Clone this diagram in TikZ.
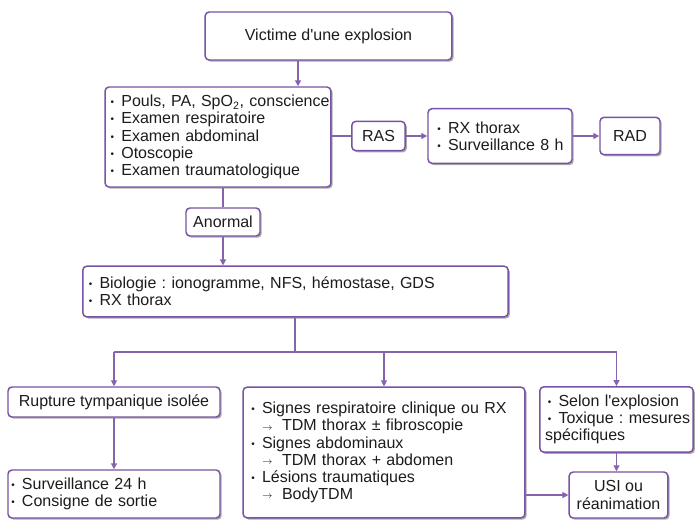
\documentclass[tikz,border=0pt]{standalone}
\usepackage{fontspec}
\setmainfont{Liberation Sans}
\usetikzlibrary{arrows.meta,shadows}
\definecolor{vio}{RGB}{120,82,164}
\definecolor{ink}{RGB}{30,27,28}
\frenchspacing
% one list line: dot, then the text, never broken
\newcommand{\dotmark}{\raisebox{0.12ex}{\scalebox{0.62}{\textbullet}}}
\newcommand{\itm}[1]{\mbox{\makebox[8pt][l]{\dotmark}#1}}
\newcommand{\sub}[1]{\mbox{\hspace*{8pt}\makebox[15pt][l]{\raisebox{0.6pt}{\fontsize{7}{7}\selectfont$\rightarrow$}}#1}}
\newcommand{\apo}{\textquotesingle}

\begin{document}
\begin{tikzpicture}[x=0.75pt,y=-0.75pt,
  font=\fontsize{12}{12.9}\selectfont, text=ink,
  >={Triangle[length=4.5pt,width=4.5pt]},
  box/.style={draw=vio, line width=1.1pt, rounded corners=3pt, fill=white, inner sep=2pt, align=center,
    drop shadow={shadow xshift=1.3pt, shadow yshift=-1.3pt, fill=black!55, opacity=.6}},
  lst/.style={box, align=left},
  cl/.style={draw=vio!90, line width=0.9pt},
]
\useasboundingbox (0,0) rectangle (695,520);
% ---------------- first exam ----------------
\node[box, minimum width=185pt, minimum height=36pt] (vict) at (328.5,36) {Victime d\apo une explosion};
\node[lst, text width=161pt, inner xsep=4.2pt, minimum height=75pt] (exam) at (218,137)
  {\itm{Pouls, PA, SpO\textsubscript{2}, conscience}\\ \itm{Examen respiratoire}\\ \itm{Examen abdominal}\\
   \itm{Otoscopie}\\ \itm{Examen traumatologique}};
\node[box, minimum width=40pt, minimum height=22pt] (ras) at (378.5,136) {RAS};
\node[lst, text width=94pt, inner xsep=7pt, minimum height=41pt] (rx8) at (500,136)
  {\itm{RX thorax}\\ \itm{Surveillance 8 h}};
\node[box, minimum width=45pt, minimum height=28pt] (rad) at (630,136) {RAD};
\node[box, minimum width=55.5pt, minimum height=21pt] (anor) at (223,222) {Anormal};
\coordinate (c1) at (298,0);
\draw[cl,->] (vict.south -| c1) -- (exam.north -| c1);
\draw[cl] (exam.east |- ras.west) -- (ras.west);
\draw[cl,->] (ras) -- (rx8);
\draw[cl,->] (rx8) -- (rad);
\draw[cl] (exam.south -| anor.north) -- (anor.north);
% ---------------- work-up ----------------
\node[lst, text width=310pt, inner xsep=4.5pt, minimum height=38pt] (bio) at (295.5,291.5)
  {\itm{Biologie : ionogramme, NFS, hémostase, GDS}\\ \itm{RX thorax}};
\draw[cl,->] (anor) -- (bio.north -| anor);
% ---------------- three branches ----------------
\node[box, minimum width=159pt, minimum height=22.5pt] (rupt) at (114,402) {Rupture tympanique isolée};
\node[lst, text width=154pt, inner xsep=2.5pt, minimum height=36pt] (surv) at (114,494)
  {\itm{Surveillance 24 h}\\ \itm{Consigne de sortie}};
\node[lst, text width=199pt, inner xsep=6.2pt, minimum height=98pt] (mid) at (384,452.5)
  {\itm{Signes respiratoire clinique ou RX}\\ \sub{TDM thorax \textpm{} fibroscopie}\\
   \itm{Signes abdominaux}\\ \sub{TDM thorax + abdomen}\\
   \itm{Lésions traumatiques}\\ \sub{BodyTDM}};
\node[lst, text width=107pt, inner xsep=4pt, minimum height=49pt] (selon) at (616.5,419.5)
  {\hspace*{2pt}\itm{Selon l\apo explosion}\\ \hspace*{2pt}\itm{Toxique : mesures}\\ spécifiques};
\node[box, minimum width=74pt, minimum height=34.5pt] (usi) at (618.5,495) {USI ou\\réanimation};
\coordinate (split) at (295,352);
\draw[cl] (bio.south -| split) -- (split);
\draw[cl] (split -| rupt.north) -- (split -| selon.north);
\foreach \n in {rupt,mid,selon}
  \draw[cl,->] (split -| \n.north) -- (\n.north);
\draw[cl,->] (rupt) -- (surv);
\draw[cl,->] (selon.south) -- (selon.south |- usi.north);
\draw[cl,->] (mid.east |- usi.west) -- (usi.west);
\end{tikzpicture}
\end{document}
